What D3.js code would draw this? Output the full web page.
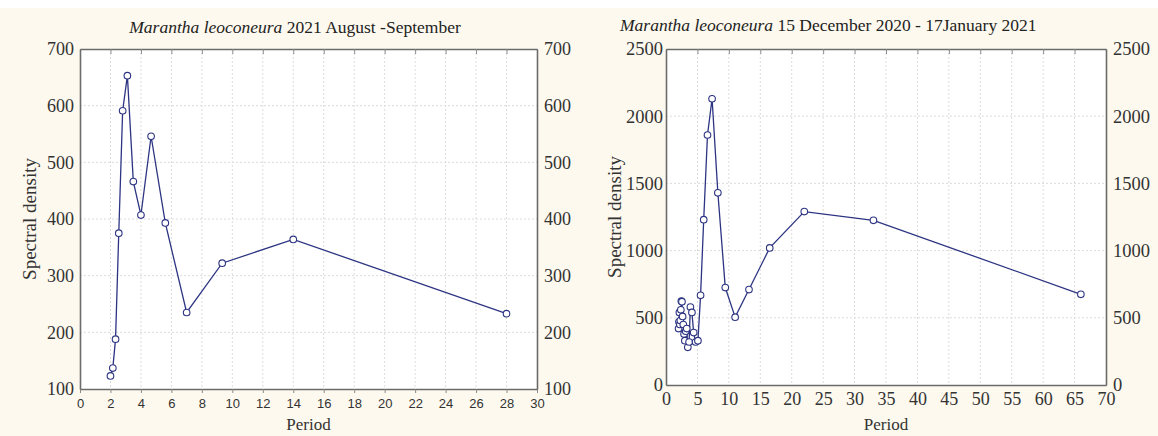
<!DOCTYPE html>
<html><head><meta charset="utf-8">
<script src="https://cdn.jsdelivr.net/npm/d3@7"></script>
<style>
html,body{margin:0;padding:0;background:#fdf9ee;}
svg{display:block;}
.serif{font-family:"Liberation Serif","Times New Roman",Tinos,"DejaVu Serif",serif;}
.sans{font-family:"Liberation Sans",Arial,Arimo,sans-serif;}
</style></head>
<body>
<svg id="chart" width="1158" height="436"></svg>
<script>
// ---- Data ----
const leftPeriods = [2.0, 2.154, 2.333, 2.545, 2.8, 3.111, 3.5, 4.0, 4.667, 5.6, 7.0, 9.333, 14, 28];
const leftDensity = [123, 137, 188, 375, 591, 653, 466, 407, 546, 393, 235, 322, 364, 233];
const leftXTicks = [0,2,4,6,8,10,12,14,16,18,20,22,24,26,28,30];
const leftYTicks = [100,200,300,400,500,600,700];

const rightPeriods = [2.0, 2.06, 2.13, 2.2, 2.28, 2.36, 2.44, 2.54, 2.64, 2.75, 2.87, 3.0, 3.14, 3.3, 3.47, 3.67, 3.88, 4.125, 4.4, 4.71, 5.08, 5.5, 6.0, 6.6, 7.33, 8.25, 9.43, 11, 13.2, 16.5, 22, 33, 66];
const rightDensity = [420, 470, 540, 450, 480, 560, 625, 620, 510, 450, 380, 330, 400, 420, 280, 320, 580, 540, 390, 320, 330, 667, 1230, 1860, 2130, 1430, 725, 505, 710, 1020, 1290, 1225, 675];
const rightXTicks = [0,5,10,15,20,25,30,35,40,45,50,55,60,65,70];
const rightYTicks = [0,500,1000,1500,2000,2500];

const svg = d3.select("#chart");
svg.append("rect").attr("x",0).attr("y",0).attr("width",1158).attr("height",8).attr("fill","#ffffff");

const lineColor = "#2d3482";
const fmt = d3.format("d");

function panel(o){
  const x = d3.scaleLinear().domain(o.xDomain).range([o.x0, o.x1]);
  const y = d3.scaleLinear().domain(o.yDomain).range([o.y1, o.y0]);
  const g = svg.append("g");
  g.append("rect").attr("x",o.x0).attr("y",o.y0).attr("width",o.x1-o.x0).attr("height",o.y1-o.y0).attr("fill","#ffffff");
  // grid
  g.selectAll(".vg").data(o.xTicks.slice(1,-1)).join("line")
    .attr("x1",d=>x(d)).attr("x2",d=>x(d)).attr("y1",o.y0).attr("y2",o.y1)
    .attr("stroke","#dcdcdc").attr("stroke-width",1).attr("stroke-dasharray","2,2");
  g.selectAll(".hg").data(o.yTicks.slice(1,-1)).join("line")
    .attr("y1",d=>y(d)).attr("y2",d=>y(d)).attr("x1",o.x0).attr("x2",o.x1)
    .attr("stroke","#dcdcdc").attr("stroke-width",1).attr("stroke-dasharray","2,2");
  // axes
  const bottom = g.append("g").attr("transform",`translate(0,${o.y1})`)
    .call(d3.axisBottom(x).tickValues(o.xTicks).tickFormat(fmt).tickSize(o.bTick).tickSizeOuter(0).tickPadding(o.bPad));
  const top = g.append("g").attr("transform",`translate(0,${o.y0})`)
    .call(d3.axisBottom(x).tickValues(o.xTicks).tickSize(5).tickSizeOuter(0).tickFormat(""));
  const left = g.append("g").attr("transform",`translate(${o.x0},0)`)
    .call(d3.axisLeft(y).tickValues(o.yTicks).tickFormat(fmt).tickSize(0).tickSizeOuter(0).tickPadding(o.lPad));
  const right = g.append("g").attr("transform",`translate(${o.x1},0)`)
    .call(d3.axisRight(y).tickValues(o.yTicks).tickFormat(fmt).tickSize(0).tickSizeOuter(0).tickPadding(7));
  [bottom,top,left,right].forEach(a=>{
    a.attr("font-family",null).attr("font-size",null);
    a.select(".domain").attr("stroke","#6b6b6b").attr("stroke-width",1.6);
    a.selectAll(".tick line").attr("stroke","#8a8a8a");
    a.selectAll("text").attr("fill","#333");
  });
  bottom.selectAll("text").attr("class",o.xClass).style("font-size",o.xFontSize+"px");
  [left,right].forEach(a=>a.selectAll("text").attr("class","serif").style("font-size",o.yFontSize+"px"));
  // line
  const pts = o.px.map((p,i)=>[p,o.py[i]]);
  g.append("path").datum(pts)
    .attr("d", d3.line().x(d=>x(d[0])).y(d=>y(d[1])))
    .attr("fill","none").attr("stroke",lineColor).attr("stroke-width",1.3);
  g.selectAll(".pt").data(pts).join("circle")
    .attr("cx",d=>x(d[0])).attr("cy",d=>y(d[1])).attr("r",3.3)
    .attr("fill","#ffffff").attr("stroke",lineColor).attr("stroke-width",1.1);
  // labels
  g.append("text").attr("class","serif").attr("x",(o.x0+o.x1)/2).attr("y",430).attr("text-anchor","middle")
    .style("font-size","17px").attr("fill","#333").text("Period");
  g.append("text").attr("class","serif").attr("transform",`translate(${o.ylabX},${(o.y0+o.y1)/2}) rotate(-90)`).attr("text-anchor","middle")
    .style("font-size","19px").attr("fill","#333").text("Spectral density");
  const t = g.append("text").attr("class","serif").attr("x",o.titleX).attr("y",o.titleY).attr("text-anchor",o.titleAnchor)
    .style("font-size","17.5px").attr("fill","#222");
  t.append("tspan").style("font-style","italic").text("Marantha leoconeura");
  t.append("tspan").text(o.titleRest);
}

panel({x0:80, x1:537, y0:49, y1:389, xDomain:[0,30], yDomain:[100,700],
  xTicks:leftXTicks, yTicks:leftYTicks, px:leftPeriods, py:leftDensity,
  xClass:"sans", xFontSize:13, yFontSize:18, bTick:4, bPad:6, lPad:6,
  ylabX:36, titleX:295, titleY:33, titleAnchor:"middle", titleRest:" 2021 August -September"});

panel({x0:666, x1:1106, y0:49, y1:385, xDomain:[0,70], yDomain:[0,2500],
  xTicks:rightXTicks, yTicks:rightYTicks, px:rightPeriods, py:rightDensity,
  xClass:"serif", xFontSize:18, yFontSize:18.5, bTick:0, bPad:7, lPad:3,
  ylabX:621, titleX:620, titleY:31, titleAnchor:"start", titleRest:" 15 December  2020 - 17January  2021"});
</script>
</body></html>
